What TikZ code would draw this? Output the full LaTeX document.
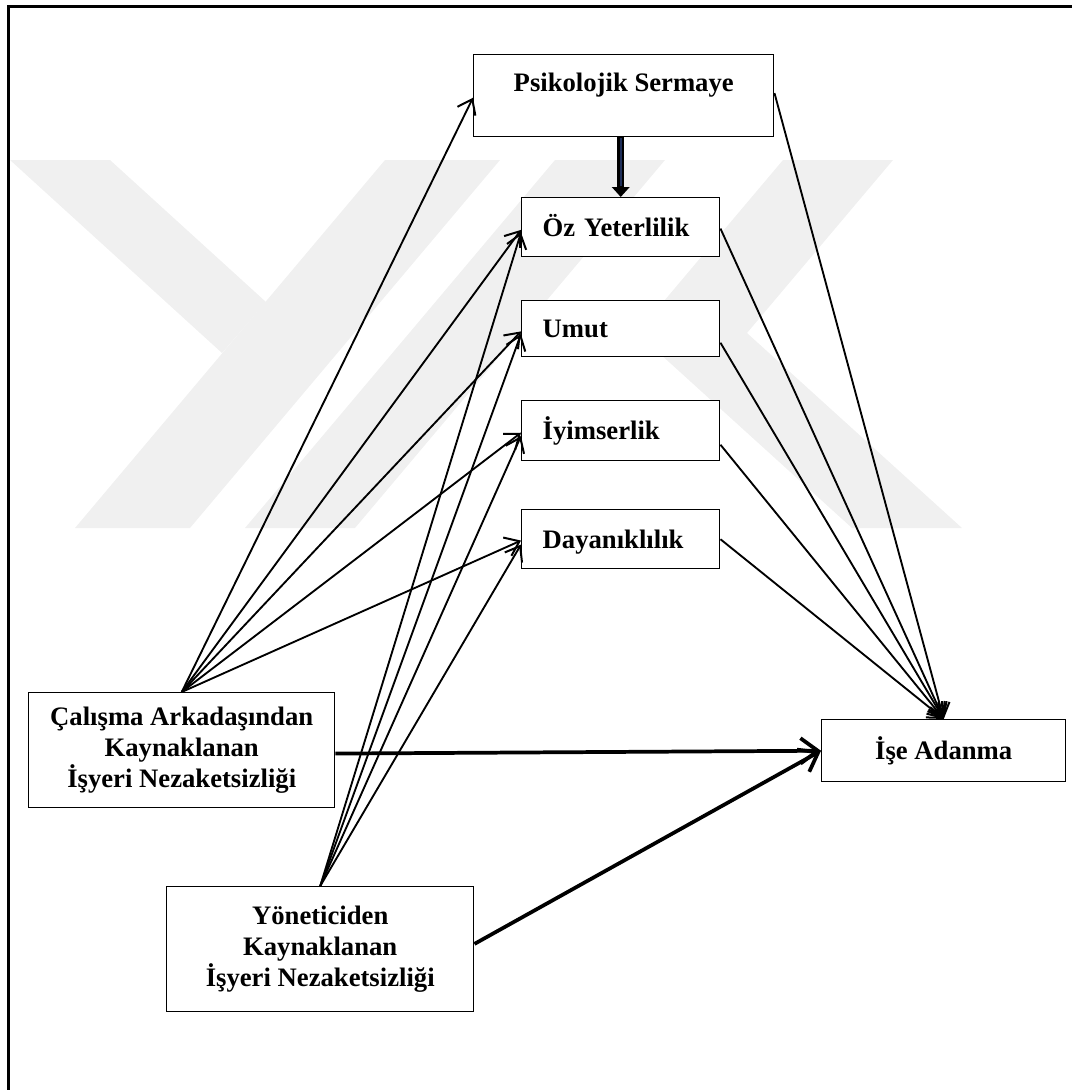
\documentclass[tikz,border=0pt]{standalone}
\usepackage{fontspec}
\setmainfont{Liberation Serif}
\usetikzlibrary{arrows.meta,calc}
\definecolor{wm}{gray}{0.94}
\definecolor{shaftblue}{HTML}{1F2F5A}

\begin{document}
\begin{tikzpicture}[x=0.75pt,y=-0.75pt,
  box/.style={draw, line width=1.1pt, fill=white, inner sep=0pt,
    font=\bfseries\fontsize{20}{23}\selectfont},
  factor/.style={box, text width=117pt, align=left, inner xsep=15.75pt,
    text height=13.5pt, text depth=0pt},
  thinarrow/.style={line width=1.4pt,
    -{Straight Barb[length=10pt,width=15pt,line width=1.5pt]}},
  thickarrow/.style={line width=2.8pt,
    -{Straight Barb[length=13pt,width=19pt,line width=2.8pt]}},
]
\useasboundingbox (0,0) rectangle (1072,1090);

% background emblem
\fill[wm] (385,160) -- (500,160) -- (190,528) -- (75,528) -- cycle;
\fill[wm] (10,160) -- (110,160) -- (266,302) -- (222,353) -- cycle;
\fill[wm] (555,160) -- (665,160) -- (355,528) -- (245,528) -- cycle;
\fill[wm] (783,160) -- (893,160) -- (747,333) -- (962,528) -- (852,528) -- (637,333) -- cycle;

% frame
\draw[line width=2pt] (8.7,1090) -- (8.7,6.3) -- (1072,6.3);

% boxes
\node[box, minimum width=225pt, text height=27.75pt, text depth=33.75pt,
  anchor=north west] (psy) at (473,54) {Psikolojik Sermaye};
\node[factor, minimum height=44.25pt, anchor=north west] (oz) at (521,197) {Öz Yeterlilik};
\node[factor, minimum height=42pt, anchor=north west] (umut) at (521,300) {Umut};
\node[factor, minimum height=45pt, anchor=north west] (iyim) at (521,400) {İyimserlik};
\node[factor, minimum height=44.25pt, anchor=north west] (daya) at (521,509) {Dayanıklılık};
\node[box, align=center, minimum width=229.5pt, minimum height=86.25pt,
  anchor=north west] (cal) at (28,692) {Çalışma Arkadaşından\\Kaynaklanan\\İşyeri Nezaketsizliği};
\node[box, align=center, minimum width=230.25pt, minimum height=93.75pt,
  anchor=north west] (yon) at (166,886) {Yöneticiden\\Kaynaklanan\\İşyeri Nezaketsizliği};
\node[box, minimum width=183pt, minimum height=46.5pt, text height=13.5pt, text depth=0pt,
  anchor=north west] (ise) at (821,719) {İşe Adanma};

% capital to self-efficacy
\draw[line width=5.5pt, -{Triangle[length=7.5pt,width=13pt]}] (psy.south -| oz.north) -- (oz.north);
\draw[line width=1.8pt, shaftblue, shorten >=8pt, shorten <=0.6pt] (psy.south -| oz.north) -- (oz.north);

% co-worker incivility
\draw[thinarrow] (cal.north) -- ([yshift=-1.5pt]psy.west);
\draw[thinarrow] (cal.north) -- ([yshift=-2pt]oz.west);
\draw[thinarrow] (cal.north) -- ([yshift=-2pt]umut.west);
\draw[thinarrow] (cal.north) -- ([yshift=-1.5pt]iyim.west);
\draw[thinarrow] (cal.north) -- ([yshift=-1pt]daya.west);

% supervisor incivility
\draw[thinarrow] (yon.north) -- ([yshift=-4pt]oz.west);
\draw[thinarrow] (yon.north) -- ([yshift=-4pt]umut.west);
\draw[thinarrow] (yon.north) -- ([yshift=-4pt]iyim.west);
\draw[thinarrow] (yon.north) -- ([yshift=-4pt]daya.west);

% paths to work engagement
\draw[thinarrow] ([yshift=2pt]psy.east) -- (ise.north);
\draw[thinarrow] ([yshift=-1pt]oz.east) -- (ise.north);
\draw[thinarrow] ([yshift=-10.5pt]umut.east) -- (ise.north);
\draw[thinarrow] ([yshift=-10.5pt]iyim.east) -- (ise.north);
\draw[thinarrow] (daya.east) -- (ise.north);

\draw[thickarrow] ([yshift=-2.5pt]cal.east) -- (ise.west);
\draw[thickarrow] ([yshift=4pt]yon.east) -- (ise.west);
\end{tikzpicture}
\end{document}
